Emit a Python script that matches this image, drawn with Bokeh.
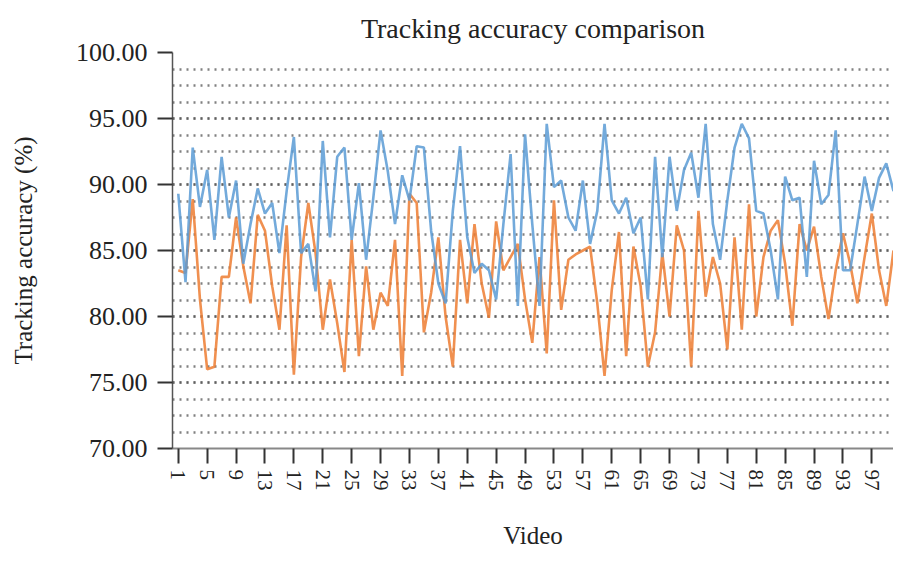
from bokeh.plotting import figure
from bokeh.models import Range1d, FixedTicker, NumeralTickFormatter, ColumnDataSource
from bokeh.embed import file_html
from bokeh.resources import INLINE

videos = list(range(1, 101))

series_blue = [
    89.3, 82.6, 92.8, 88.3, 91.1, 85.8, 92.1, 87.5, 90.3, 84.0,
    87.0, 89.7, 87.8, 88.6, 84.8, 89.5, 93.6, 84.8, 85.5, 81.9,
    93.3, 86.0, 92.1, 92.8, 85.8, 90.1, 84.3, 89.0, 94.1, 91.0,
    87.0, 90.7, 88.8, 92.9, 92.8, 86.5, 82.5, 81.0, 88.0, 92.9,
    86.0, 83.3, 84.0, 83.5, 81.3, 87.0, 92.3, 80.8, 93.8, 87.0,
    80.8, 94.6, 89.8, 90.3, 87.5, 86.5, 90.3, 85.5, 88.0, 94.6,
    88.8, 87.8, 89.0, 86.3, 87.5, 81.3, 92.1, 84.5, 92.1, 88.0,
    91.1, 92.4, 89.0, 94.6, 87.0, 84.3, 88.8, 92.8, 94.6, 93.5,
    88.0, 87.8, 85.0, 81.3, 90.6, 88.8, 89.0, 83.0, 91.8, 88.5,
    89.2, 94.1, 83.5, 83.5, 87.0, 90.6, 88.0, 90.5, 91.6, 89.5,
]

series_orange = [
    83.5, 83.3, 88.9, 81.3, 76.0, 76.2, 83.0, 83.0, 87.5, 83.8,
    81.0, 87.7, 86.5, 82.3, 79.0, 86.9, 75.6, 84.5, 88.6, 84.8,
    79.0, 82.8, 79.5, 75.8, 85.8, 77.0, 83.8, 79.0, 81.8, 80.8,
    85.8, 75.5, 89.3, 88.6, 78.8, 81.8, 86.0, 80.0, 76.2, 85.8,
    81.0, 87.0, 82.5, 79.9, 87.2, 83.5, 84.5, 85.5, 81.3, 78.0,
    84.5, 77.2, 88.8, 80.5, 84.3, 84.7, 85.0, 85.3, 81.0, 75.5,
    82.0, 86.4, 77.0, 85.3, 82.3, 76.2, 78.8, 84.8, 80.0, 86.9,
    85.0, 76.2, 88.0, 81.5, 84.5, 82.5, 77.5, 86.0, 79.0, 88.5,
    80.0, 84.5, 86.5, 87.3, 84.0, 79.3, 87.0, 85.0, 86.8, 83.0,
    79.8, 83.5, 86.3, 84.0, 81.0, 84.5, 87.8, 83.5, 80.8, 85.0,
]

x_tick_values = list(range(1, 98, 4))
y_major_ticks = [70, 75, 80, 85, 90, 95, 100]
y_minor_ticks = [70 + 1.25 * i for i in range(25)]

FONT = "Liberation Serif"

p = figure(
    width=893, height=551,
    x_range=Range1d(0.2, 100.0), y_range=Range1d(70, 100),
    output_backend="svg", toolbar_location=None,
    min_border_left=172, min_border_right=0,
    min_border_top=52, min_border_bottom=102,
    background_fill_color="white", border_fill_color="white",
)
p.outline_line_color = None

p.title.text = "Tracking accuracy comparison"
p.title.align = "center"
p.title.text_font = FONT
p.title.text_font_size = "28px"
p.title.text_font_style = "normal"
p.title.text_color = "#222222"
p.title.standoff = 18

src = ColumnDataSource(dict(x=videos, blue=series_blue, orange=series_orange))
p.line("x", "orange", source=src, line_color="#ED7D31", line_width=2.6, line_alpha=0.85)
p.line("x", "blue", source=src, line_color="#5B9BD5", line_width=2.6, line_alpha=0.85)

# grids
p.xgrid.grid_line_color = None
yt = FixedTicker(ticks=y_major_ticks, minor_ticks=y_minor_ticks)
p.yaxis.ticker = yt
p.ygrid.ticker = yt
p.ygrid.grid_line_color = "#555555"
p.ygrid.grid_line_dash = "2 5"
p.ygrid.grid_line_width = 2.6
p.ygrid.grid_line_alpha = 0.75
p.ygrid.minor_grid_line_color = "#555555"
p.ygrid.minor_grid_line_dash = "2 5"
p.ygrid.minor_grid_line_width = 2.6
p.ygrid.minor_grid_line_alpha = 0.75

# y axis
p.yaxis.formatter = NumeralTickFormatter(format="0.00")
p.yaxis.axis_label = "Tracking accuracy (%)"
p.yaxis.axis_label_text_font = FONT
p.yaxis.axis_label_text_font_size = "25px"
p.yaxis.axis_label_text_font_style = "normal"
p.yaxis.axis_label_text_color = "#222222"
p.yaxis.axis_label_standoff = 36
p.yaxis.major_label_text_font = FONT
p.yaxis.major_label_text_font_size = "26px"
p.yaxis.major_label_text_color = "#222222"
p.yaxis.major_label_standoff = 10
p.yaxis.axis_line_color = "#555555"
p.yaxis.axis_line_width = 1.5
p.yaxis.major_tick_line_color = "#333333"
p.yaxis.major_tick_line_width = 2
p.yaxis.major_tick_out = 15
p.yaxis.major_tick_in = 0
p.yaxis.minor_tick_line_color = None

# x axis
p.xaxis.ticker = FixedTicker(ticks=x_tick_values)
p.xaxis.axis_label = "Video"
p.xaxis.axis_label_text_font = FONT
p.xaxis.axis_label_text_font_size = "25px"
p.xaxis.axis_label_text_font_style = "normal"
p.xaxis.axis_label_text_color = "#222222"
p.xaxis.axis_label_standoff = 28
p.xaxis.major_label_orientation = "vertical"
p.xaxis.major_label_text_font = FONT
p.xaxis.major_label_text_font_size = "21px"
p.xaxis.major_label_text_color = "#222222"
p.xaxis.major_label_standoff = 6
p.xaxis.axis_line_color = "#888888"
p.xaxis.axis_line_width = 2
p.xaxis.major_tick_line_color = "#333333"
p.xaxis.major_tick_line_width = 2
p.xaxis.major_tick_out = 15
p.xaxis.major_tick_in = 0
p.xaxis.minor_tick_line_color = None

open("out.html", "w").write(file_html(p, INLINE))
